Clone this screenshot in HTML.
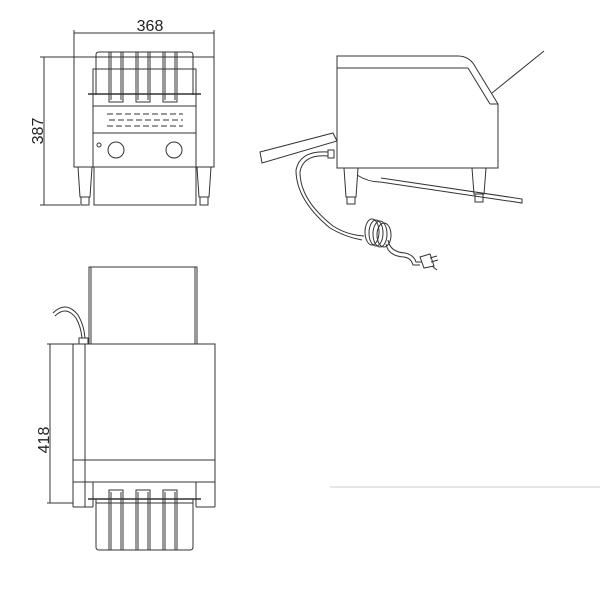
<!DOCTYPE html>
<html><head><style>body{margin:0;background:#fff}svg{display:block}</style></head><body>
<svg width="600" height="600" viewBox="0 0 600 600" xmlns="http://www.w3.org/2000/svg" fill="none" stroke="#333" stroke-width="1">
<!-- FRONT VIEW -->
<line x1="74" y1="33" x2="214" y2="33"/>
<line x1="74" y1="30" x2="74" y2="57"/><line x1="214" y1="30" x2="214" y2="57"/>
<text x="150" y="31" font-family="Liberation Sans, sans-serif" font-size="16" fill="#222" stroke="none" text-anchor="middle">368</text>
<line x1="44" y1="57" x2="44" y2="205"/>
<line x1="40" y1="57" x2="74" y2="57"/><line x1="40" y1="205" x2="80" y2="205"/>
<text transform="translate(43,131) rotate(-90)" font-family="Liberation Sans, sans-serif" font-size="16" fill="#222" stroke="none" text-anchor="middle">387</text>
<rect x="74" y="57" width="140" height="110"/>
<rect x="93" y="69" width="103" height="98"/>
<path d="M96 95 V55 Q96 52 99 52 H190 Q193 52 193 55 V95"/>
<line x1="88" y1="94" x2="201" y2="94" stroke-width="1.5"/>
<rect x="109" y="52" width="14" height="50"/><rect x="136" y="52" width="14" height="50"/><rect x="163" y="52" width="14" height="50"/>
<line x1="111" y1="52" x2="111" y2="100"/><line x1="121" y1="52" x2="121" y2="100"/>
<line x1="138" y1="52" x2="138" y2="100"/><line x1="148" y1="52" x2="148" y2="100"/>
<line x1="165" y1="52" x2="165" y2="100"/><line x1="175" y1="52" x2="175" y2="100"/>
<line x1="93" y1="106" x2="196" y2="106"/>
<g stroke-dasharray="6,3"><line x1="107" y1="114" x2="183" y2="114"/><line x1="109" y1="120" x2="183" y2="120"/><line x1="107" y1="126" x2="183" y2="126"/></g>
<line x1="93" y1="133" x2="196" y2="133"/>
<circle cx="99" cy="145" r="2"/>
<circle cx="116" cy="150" r="8"/><circle cx="174" cy="150" r="8"/>
<rect x="94" y="167" width="102" height="38"/>
<path d="M78 167 L80 197 H90 L92 167"/><rect x="81" y="197" width="8" height="8"/>
<path d="M197 167 L199 197 H209 L211 167"/><rect x="200" y="197" width="8" height="8"/>
<!-- SIDE VIEW -->
<path d="M337 168 V56 H458 Q470 56 476 68 L498 104 V168 Z"/>
<line x1="337" y1="68" x2="468" y2="68"/>
<line x1="468" y1="68" x2="490" y2="104"/><line x1="490" y1="104" x2="498" y2="104"/>
<line x1="492" y1="93" x2="544" y2="51"/>
<path d="M260 152 L333 133 L337 141 L262 163 Z"/>
<path d="M344 168 L346 197 H356 L358 168"/><rect x="347" y="197" width="8" height="7"/>
<path d="M472 168 L474 194 H484 L486 168"/><rect x="475" y="194" width="8" height="8"/>
<path d="M357 175 Q368 182 380 182 L522 203 V199 L381 178"/>
<rect x="328" y="150" width="6" height="8"/>
<path d="M328 152 Q300 150 296 170 Q296 200 330 228 Q345 237 362 240"/>
<path d="M328 156 Q303 154 300 172 Q300 200 333 226 Q347 235 364 236"/>
<g><ellipse cx="372" cy="232" rx="7" ry="13"/><ellipse cx="376" cy="233" rx="7" ry="13"/><ellipse cx="380" cy="234" rx="7" ry="13"/><ellipse cx="384" cy="235" rx="7" ry="12"/></g>
<path d="M388 240 Q390 252 405 253 Q414 255 416 262 L422 262"/>
<path d="M386 244 Q388 256 404 257 Q411 258 413 265 L420 265"/>
<path d="M420 257 L430 254 L434 266 L424 268 Z"/>
<line x1="430" y1="258" x2="437" y2="256"/><line x1="431" y1="262" x2="438" y2="260"/><line x1="432" y1="266" x2="437" y2="270"/>
<!-- TOP VIEW -->
<rect x="89" y="267" width="108" height="77"/>
<line x1="91" y1="267" x2="91" y2="344"/><line x1="195" y1="267" x2="195" y2="344"/>
<path d="M53 313 Q66 300 78 315 Q84 325 85 338"/>
<path d="M55 316 Q66 305 76 318 Q81 327 82 338"/>
<rect x="79" y="338" width="9" height="6"/>
<rect x="73" y="344" width="142" height="138"/>
<line x1="85" y1="344" x2="85" y2="507"/>
<line x1="73" y1="460" x2="215" y2="460"/>
<line x1="73" y1="482" x2="73" y2="507"/><line x1="73" y1="507" x2="93" y2="507"/>
<line x1="93" y1="482" x2="93" y2="507"/><line x1="196" y1="482" x2="196" y2="507"/>
<line x1="215" y1="482" x2="215" y2="507"/><line x1="196" y1="507" x2="215" y2="507"/>
<line x1="50" y1="344" x2="50" y2="503"/>
<line x1="47" y1="344" x2="73" y2="344"/><line x1="47" y1="503" x2="73" y2="503"/>
<text transform="translate(49,440) rotate(-90)" font-family="Liberation Sans, sans-serif" font-size="16" fill="#222" stroke="none" text-anchor="middle">418</text>
<line x1="88" y1="499" x2="201" y2="499" stroke-width="1.5"/>
<path d="M96 499 V547 Q96 550 99 550 H190 Q193 550 193 547 V499"/>
<path d="M96 503 H193"/>
<rect x="109" y="490" width="14" height="60"/><rect x="136" y="490" width="14" height="60"/><rect x="163" y="490" width="14" height="60"/>
<line x1="111" y1="492" x2="111" y2="550"/><line x1="121" y1="492" x2="121" y2="550"/>
<line x1="138" y1="492" x2="138" y2="550"/><line x1="148" y1="492" x2="148" y2="550"/>
<line x1="165" y1="492" x2="165" y2="550"/><line x1="175" y1="492" x2="175" y2="550"/>
<line x1="330" y1="487" x2="600" y2="487" stroke="#ccc"/>
</svg>
</body></html>
